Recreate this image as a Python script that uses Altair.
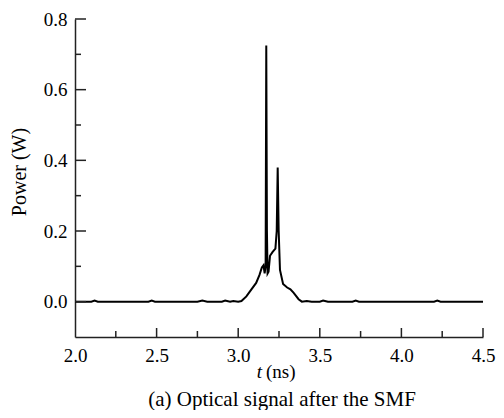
import altair as alt
import pandas as pd

# Trace of optical power vs time
t_ns = [2.0, 2.1, 2.12, 2.14, 2.45, 2.47, 2.49, 2.75, 2.78, 2.81, 2.9, 2.92, 2.95, 2.97, 3.0,
        3.02, 3.05, 3.08, 3.11, 3.13, 3.145, 3.155, 3.162, 3.168, 3.172, 3.176, 3.18, 3.186,
        3.195, 3.21, 3.228, 3.236, 3.242, 3.248, 3.256, 3.275, 3.30, 3.32, 3.34, 3.37, 3.39,
        3.42, 3.45, 3.5, 3.52, 3.55, 3.7, 3.72, 3.74, 4.2, 4.22, 4.24, 4.5]
power_w = [0.0, 0.0, 0.003, 0.0, 0.0, 0.003, 0.0, 0.0, 0.003, 0.0, 0.0, 0.003, 0.0, 0.002, 0.0,
           0.002, 0.015, 0.034, 0.053, 0.075, 0.097, 0.103, 0.08, 0.10, 0.725, 0.20, 0.08, 0.085,
           0.13, 0.14, 0.15, 0.2, 0.38, 0.2, 0.09, 0.05, 0.04, 0.035, 0.025, 0.007, 0.0,
           0.002, 0.0, 0.0, 0.003, 0.0, 0.0, 0.003, 0.0, 0.0, 0.003, 0.0, 0.0]

x_major = [2.0, 2.5, 3.0, 3.5, 4.0, 4.5]
x_minor = [2.25, 2.75, 3.25, 3.75, 4.25]
y_major = [0.0, 0.2, 0.4, 0.6, 0.8]
y_minor = [0.1, 0.3, 0.5, 0.7]

x_title_italic = "t"
x_title_rest = "(ns)"
y_title = "Power (W)"
caption = "(a) Optical signal after the SMF"

W, H = 408, 318
FONT = "Liberation Serif"
FS = 19

xs = alt.Scale(domain=[2.0, 4.5], nice=False, zero=False)
ys = alt.Scale(domain=[-0.1, 0.8], nice=False, zero=False)
xax = alt.Axis(values=x_major, format=".1f", title=None, tickSize=0, labelPadding=9,
               grid=False, labelFlush=False, labelFont=FONT, labelFontSize=FS,
               labelColor="black", domainColor="#222", domainWidth=1.5)
yax = alt.Axis(values=y_major, format=".1f", title=None, tickSize=0, labelPadding=8,
               grid=False, labelFlush=False, labelFont=FONT, labelFontSize=FS,
               labelColor="black", domainColor="#222", domainWidth=1.5)

df = pd.DataFrame({"t": t_ns, "p": power_w})

line = alt.Chart(df).mark_line(color="black", strokeWidth=2, clip=True).encode(
    x=alt.X("t:Q", scale=xs, axis=xax),
    y=alt.Y("p:Q", scale=ys, axis=yax),
)

ymaj = alt.Chart(pd.DataFrame({"v": y_major})).mark_rule(color="#222", strokeWidth=1.5).encode(
    y=alt.Y("v:Q", scale=ys, axis=yax), x=alt.value(0), x2=alt.value(11))
ymin = alt.Chart(pd.DataFrame({"v": y_minor})).mark_rule(color="#222", strokeWidth=1.5).encode(
    y=alt.Y("v:Q", scale=ys, axis=yax), x=alt.value(0), x2=alt.value(6))
xmaj = alt.Chart(pd.DataFrame({"v": x_major[1:]})).mark_rule(color="#222", strokeWidth=1.5).encode(
    x=alt.X("v:Q", scale=xs, axis=xax), y=alt.value(H), y2=alt.value(H - 9))
xmin = alt.Chart(pd.DataFrame({"v": x_minor})).mark_rule(color="#222", strokeWidth=1.5).encode(
    x=alt.X("v:Q", scale=xs, axis=xax), y=alt.value(H), y2=alt.value(H - 6))

def txt(s, x, y, align="center", angle=0, style="normal", baseline="alphabetic", size=FS):
    kw = dict(font=FONT, fontSize=size, color="black", align=align, baseline=baseline,
              fontStyle=style)
    if angle:
        kw["angle"] = angle
    return alt.Chart(pd.DataFrame({"s": [s]})).mark_text(**kw).encode(
        text="s:N", x=alt.value(x), y=alt.value(y))

xt1 = txt(x_title_italic, 187, 359, align="right", style="italic")
xt2 = txt(x_title_rest, 191, 359, align="left")
yt = txt(y_title, -55, 153, angle=270, baseline="middle", size=20)
cap = txt(caption, 207, 387, size=21)

chart = alt.layer(line, ymaj, ymin, xmaj, xmin, xt1, xt2, yt, cap).properties(
    width=W, height=H,
    autosize=alt.AutoSizeParams(type="none"),
    padding={"left": 67, "top": 11, "right": 13, "bottom": 73},
).configure_view(stroke=None).configure_axis(
    labelFont=FONT, labelFontSize=FS, labelColor="black",
)

chart.save("out.html", embed_options={"renderer": "svg", "actions": False})
